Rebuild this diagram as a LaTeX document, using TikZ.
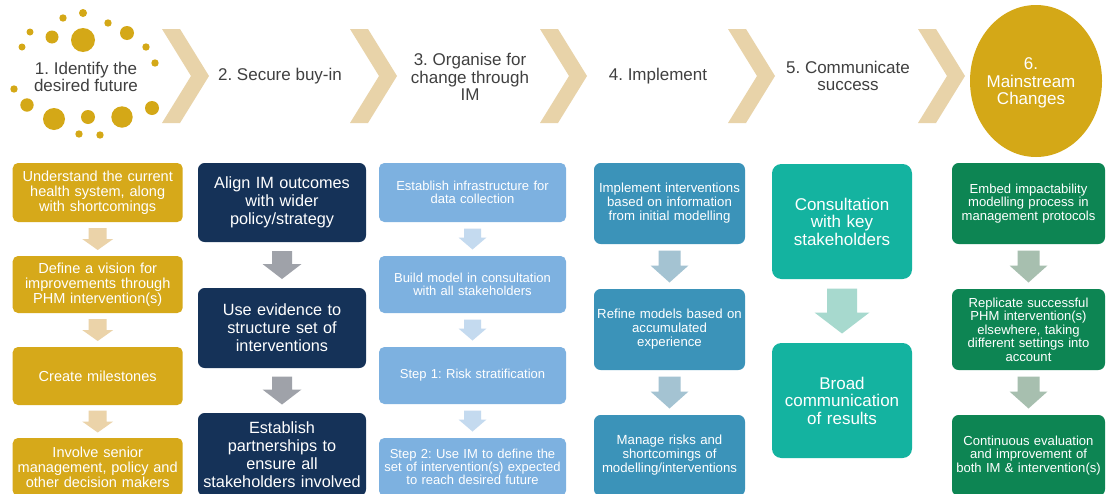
\documentclass[tikz,border=0pt]{standalone}
\usepackage{fontspec}
\setmainfont{Liberation Sans}
\usetikzlibrary{calc,shapes.geometric}
\frenchspacing
\definecolor{gold}{HTML}{D4A817}
\definecolor{chev}{HTML}{E8D3A9}
\definecolor{labeltext}{HTML}{404040}
\definecolor{cA}{HTML}{D6A91A}
\definecolor{cAarr}{HTML}{EBD3A9}
\definecolor{cB}{HTML}{153258}
\definecolor{cBarr}{HTML}{9FA2A9}
\definecolor{cC}{HTML}{7DB1E0}
\definecolor{cCarr}{HTML}{C4DAEF}
\definecolor{cD}{HTML}{3B93B9}
\definecolor{cDarr}{HTML}{A4C3D2}
\definecolor{cE}{HTML}{14B3A0}
\definecolor{cEarr}{HTML}{A7D9CE}
\definecolor{cF}{HTML}{0D8553}
\definecolor{cFarr}{HTML}{A7BFAF}
\newcommand\blockdown[7]{%
  \path ($(#1.south)!0.5!(#2.north)$) coordinate (bdm);
  \fill[#7] ([shift={({-#4/2},{-#3/2})}]bdm) -- ([shift={({#4/2},{-#3/2})}]bdm)
    -- ([shift={({#4/2},{#3/2-#6})}]bdm) -- ([shift={({#5/2},{#3/2-#6})}]bdm)
    -- ([shift={(0,{#3/2})}]bdm) -- ([shift={({-#5/2},{#3/2-#6})}]bdm)
    -- ([shift={({-#4/2},{#3/2-#6})}]bdm) -- cycle;}
\newcommand\chevronat[1]{%
  \fill[chev] (#1,29) -- ({#1+18},29) -- ({#1+47},76) -- ({#1+18},123) -- (#1,123) -- ({#1+29},76) -- cycle;}
\tikzset{
  box/.style={align=center, text=white, inner sep=0pt},
  colA/.style={box, fill=cA, rounded corners=4pt, minimum width=127.5pt, text width=124pt, font=\fontsize{10.9}{11.25}\selectfont},
  colB/.style={box, fill=cB, rounded corners=5pt, minimum width=126pt, text width=126pt, font=\fontsize{12.2}{13.5}\selectfont},
  colC/.style={box, fill=cC, rounded corners=4pt, minimum width=140.25pt, text width=138pt, font=\fontsize{9.75}{10}\selectfont},
  colD/.style={box, fill=cD, rounded corners=5pt, minimum width=113.25pt, text width=112pt, font=\fontsize{9.9}{10.5}\selectfont},
  colE/.style={box, fill=cE, rounded corners=7pt, minimum width=105pt, text width=104pt, font=\fontsize{12.75}{13.1}\selectfont},
  colF/.style={box, fill=cF, rounded corners=5pt, minimum width=114.75pt, text width=114pt, font=\fontsize{9.8}{10.1}\selectfont},
  steplabel/.style={align=center, text=labeltext, inner sep=0pt, font=\fontsize{12.75}{13.1}\selectfont},
  dot/.style={fill=gold}
}
\begin{document}
\begin{tikzpicture}[x=0.75pt,y=-0.75pt]
\clip (0,0) rectangle (1106,493);
\fill[white] (0,0) rectangle (1106,493);
% dots around step 1
\foreach \dx/\dy/\r in {83/13/4, 63/18/3.7, 108/23/3.7, 30/32/3.5, 52/37/6.5, 83/40/12, 127/33/7,
  22/47/3.5, 146/47/3.7, 155/63/3.7, 14/89/3.7, 27/105/6.7, 152/108/7, 54/119/11,
  88/117/7, 122/117/10.7, 79/134/3.7, 100/135/3.7}
  \fill[dot] (\dx,\dy) circle[radius=\r*0.75pt];
% chevrons
\chevronat{162}
\chevronat{350}
\chevronat{540}
\chevronat{728}
\chevronat{918}
% top labels
\node[steplabel] (t1) at (86,77) {1. Identify the\\desired future};
\node[steplabel] (t2) at (280,76) {2. Secure buy-in};
\node[steplabel] (t3) at (470,77) {3. Organise for\\change through\\IM};
\node[steplabel] (t4) at (658,76) {4. Implement};
\node[steplabel] (t5) at (848,76) {5. Communicate\\success};
\node[ellipse, fill=gold, inner sep=0pt, minimum width=99pt, minimum height=114pt] (s6) at (1036,81) {};
\node[steplabel, text=white] (t6) at (1031,83) {6.\\Mainstream\\Changes};
% column 1
\node[colA, minimum height=44.25pt] (a1) at (97.7,192.5) {Understand the current\\health system, along\\with shortcomings};
\node[colA, minimum height=42.75pt] (a2) at (97.7,284.5) {Define a vision for\\improvements through\\PHM intervention(s)};
\node[colA, minimum height=43.5pt] (a3) at (97.7,376) {Create milestones};
\node[colA, minimum height=43.5pt] (a4) at (97.7,467) {Involve senior\\management, policy and\\other decision makers};
\blockdown{a1}{a2}{22}{18}{31}{11}{cAarr}
\blockdown{a2}{a3}{22}{18}{31}{11}{cAarr}
\blockdown{a3}{a4}{22}{18}{31}{11}{cAarr}
% column 2
\node[colB, minimum height=59.25pt] (b1) at (282,202.5) {Align IM outcomes\\with wider\\policy/strategy};
\node[colB, minimum height=60pt] (b2) at (282,328) {Use evidence to\\structure set of\\interventions};
\node[colB, minimum height=62.25pt] (b3) at (282,454.5) {Establish\\partnerships to\\ensure all\\stakeholders involved};
\blockdown{b1}{b2}{28}{20}{39}{15}{cBarr}
\blockdown{b2}{b3}{28}{20}{39}{15}{cBarr}
% column 3
\node[colC, minimum height=44.25pt] (c1) at (472.5,192.5) {Establish infrastructure for\\data collection};
\node[colC, minimum height=42.75pt] (c2) at (472.5,284.5) {Build model in consultation\\with all stakeholders};
\node[colC, minimum height=42.75pt] (c3) at (472.5,375.5) {Step 1: Risk stratification};
\node[colC, minimum height=43.5pt] (c4) at (472.5,467) {Step 2: Use IM to define the\\set of intervention(s) expected\\to reach desired future};
\blockdown{c1}{c2}{21}{17}{28}{12}{cCarr}
\blockdown{c2}{c3}{21}{17}{28}{12}{cCarr}
\blockdown{c3}{c4}{21}{17}{28}{12}{cCarr}
% column 4
\node[colD, minimum height=60.75pt] (d1) at (669.5,203.5) {Implement interventions\\based on information\\from initial modelling};
\node[colD, minimum height=60.75pt] (d2) at (669.5,329.5) {Refine models based on\\accumulated\\experience};
\node[colD, minimum height=60.75pt] (d3) at (669.5,455.5) {Manage risks and\\shortcomings of\\modelling/interventions};
\blockdown{d1}{d2}{32}{22}{38}{17}{cDarr}
\blockdown{d2}{d3}{32}{22}{38}{17}{cDarr}
% column 5
\node[colE, minimum height=86.25pt] (e1) at (842,221.5) {Consultation\\with key\\stakeholders};
\node[colE, minimum height=86.25pt] (e2) at (842,400.5) {Broad\\communication\\of results};
\blockdown{e1}{e2}{45}{30}{55}{21}{cEarr}
% column 6
\node[colF, minimum height=60.75pt] (f1) at (1028.5,203.5) {Embed impactability\\modelling process in\\management protocols};
\node[colF, minimum height=60.75pt] (f2) at (1028.5,329.5) {Replicate successful\\PHM intervention(s)\\elsewhere, taking\\different settings into\\account};
\node[colF, minimum height=60.75pt] (f3) at (1028.5,455.5) {Continuous evaluation\\and improvement of\\both IM \& intervention(s)};
\blockdown{f1}{f2}{32}{22}{38}{17}{cFarr}
\blockdown{f2}{f3}{32}{22}{38}{17}{cFarr}
\end{tikzpicture}
\end{document}
